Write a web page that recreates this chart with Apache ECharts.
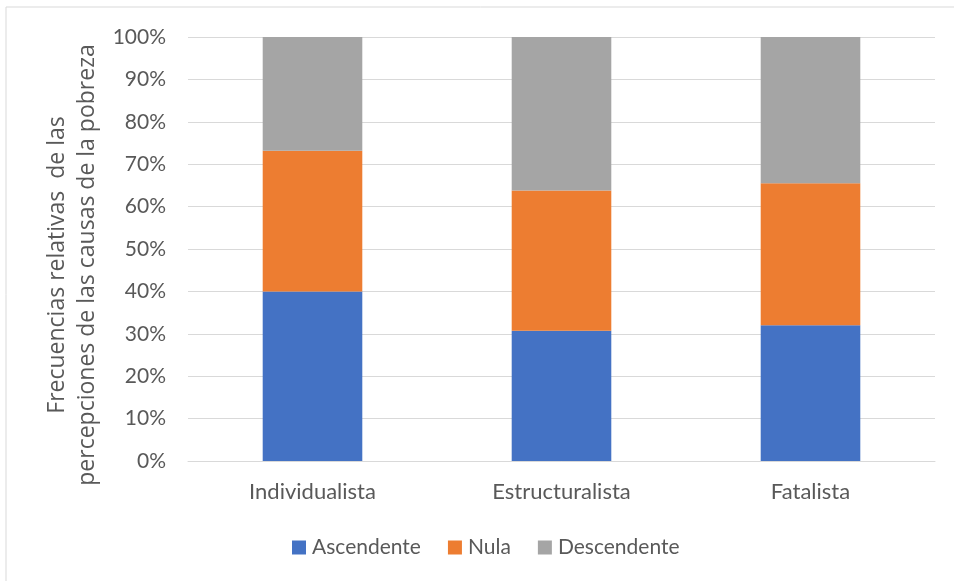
<!DOCTYPE html>
<html>
<head>
<meta charset="utf-8">
<title>Percepciones de las causas de la pobreza</title>
<script src="https://cdn.jsdelivr.net/npm/echarts@6/dist/echarts.min.js"></script>
<style>
  html, body { margin: 0; padding: 0; background: #ffffff; }
  #chart { width: 954px; height: 581px; }
</style>
</head>
<body>
<div id="chart"></div>
<script>
// Categories of perceived causes of poverty
const categories = ['Individualista', 'Estructuralista', 'Fatalista'];

// Relative frequencies (%) per mobility type
const ascendente = [40.0, 30.7, 32.0];
const nula = [33.2, 33.1, 33.5];
const descendente = [26.8, 36.2, 34.5];

const seriesNames = ['Ascendente', 'Nula', 'Descendente'];
const seriesColors = ['#4472C4', '#ED7D31', '#A5A5A5'];

const yTitleLines = ['Frecuencias relativas  de las', 'percepciones de las causas de la pobreza'];

const font = 'Lato, "Open Sans", sans-serif';
const titleFont = '"Open Sans", Lato, sans-serif';
const textColor = '#595959';

const chart = echarts.init(document.getElementById('chart'), null, { renderer: 'canvas' });

const values = [ascendente, nula, descendente];

chart.setOption({
  animation: false,
  backgroundColor: '#ffffff',
  graphic: [
    {
      type: 'rect',
      shape: { x: 6, y: 7, width: 960, height: 600 },
      style: { fill: 'none', stroke: '#D9D9D9', lineWidth: 1 },
      silent: true
    },
    {
      type: 'text',
      x: 72,
      y: 265,
      rotation: Math.PI / 2,
      style: {
        text: yTitleLines.join('\n'),
        font: '23px ' + titleFont,
        fill: textColor,
        align: 'center',
        verticalAlign: 'middle',
        lineHeight: 30
      },
      silent: true
    }
  ],
  grid: { left: 188, right: 19, top: 37, bottom: 120, containLabel: false },
  legend: {
    left: 292,
    top: 537,
    padding: 0,
    icon: 'rect',
    itemWidth: 14,
    itemHeight: 14,
    itemGap: 27,
    textStyle: { fontFamily: font, fontSize: 21, color: textColor, padding: [0, 0, 0, 1] },
    data: seriesNames
  },
  xAxis: {
    type: 'category',
    data: categories,
    axisLine: { show: true, lineStyle: { color: '#D9D9D9', width: 1 } },
    axisTick: { show: false },
    axisLabel: { fontFamily: font, fontSize: 22, color: textColor, margin: 20 }
  },
  yAxis: {
    type: 'value',
    min: 0,
    max: 100,
    interval: 10,
    axisLine: { show: false },
    axisTick: { show: false },
    splitLine: { lineStyle: { color: '#D9D9D9', width: 1 } },
    axisLabel: {
      fontFamily: font,
      fontSize: 21,
      color: textColor,
      margin: 22,
      formatter: v => v + '%'
    }
  },
  series: seriesNames.map((name, i) => ({
    name: name,
    type: 'bar',
    stack: 'total',
    barWidth: '40%',
    data: values[i],
    itemStyle: { color: seriesColors[i] }
  }))
});
</script>
</body>
</html>
